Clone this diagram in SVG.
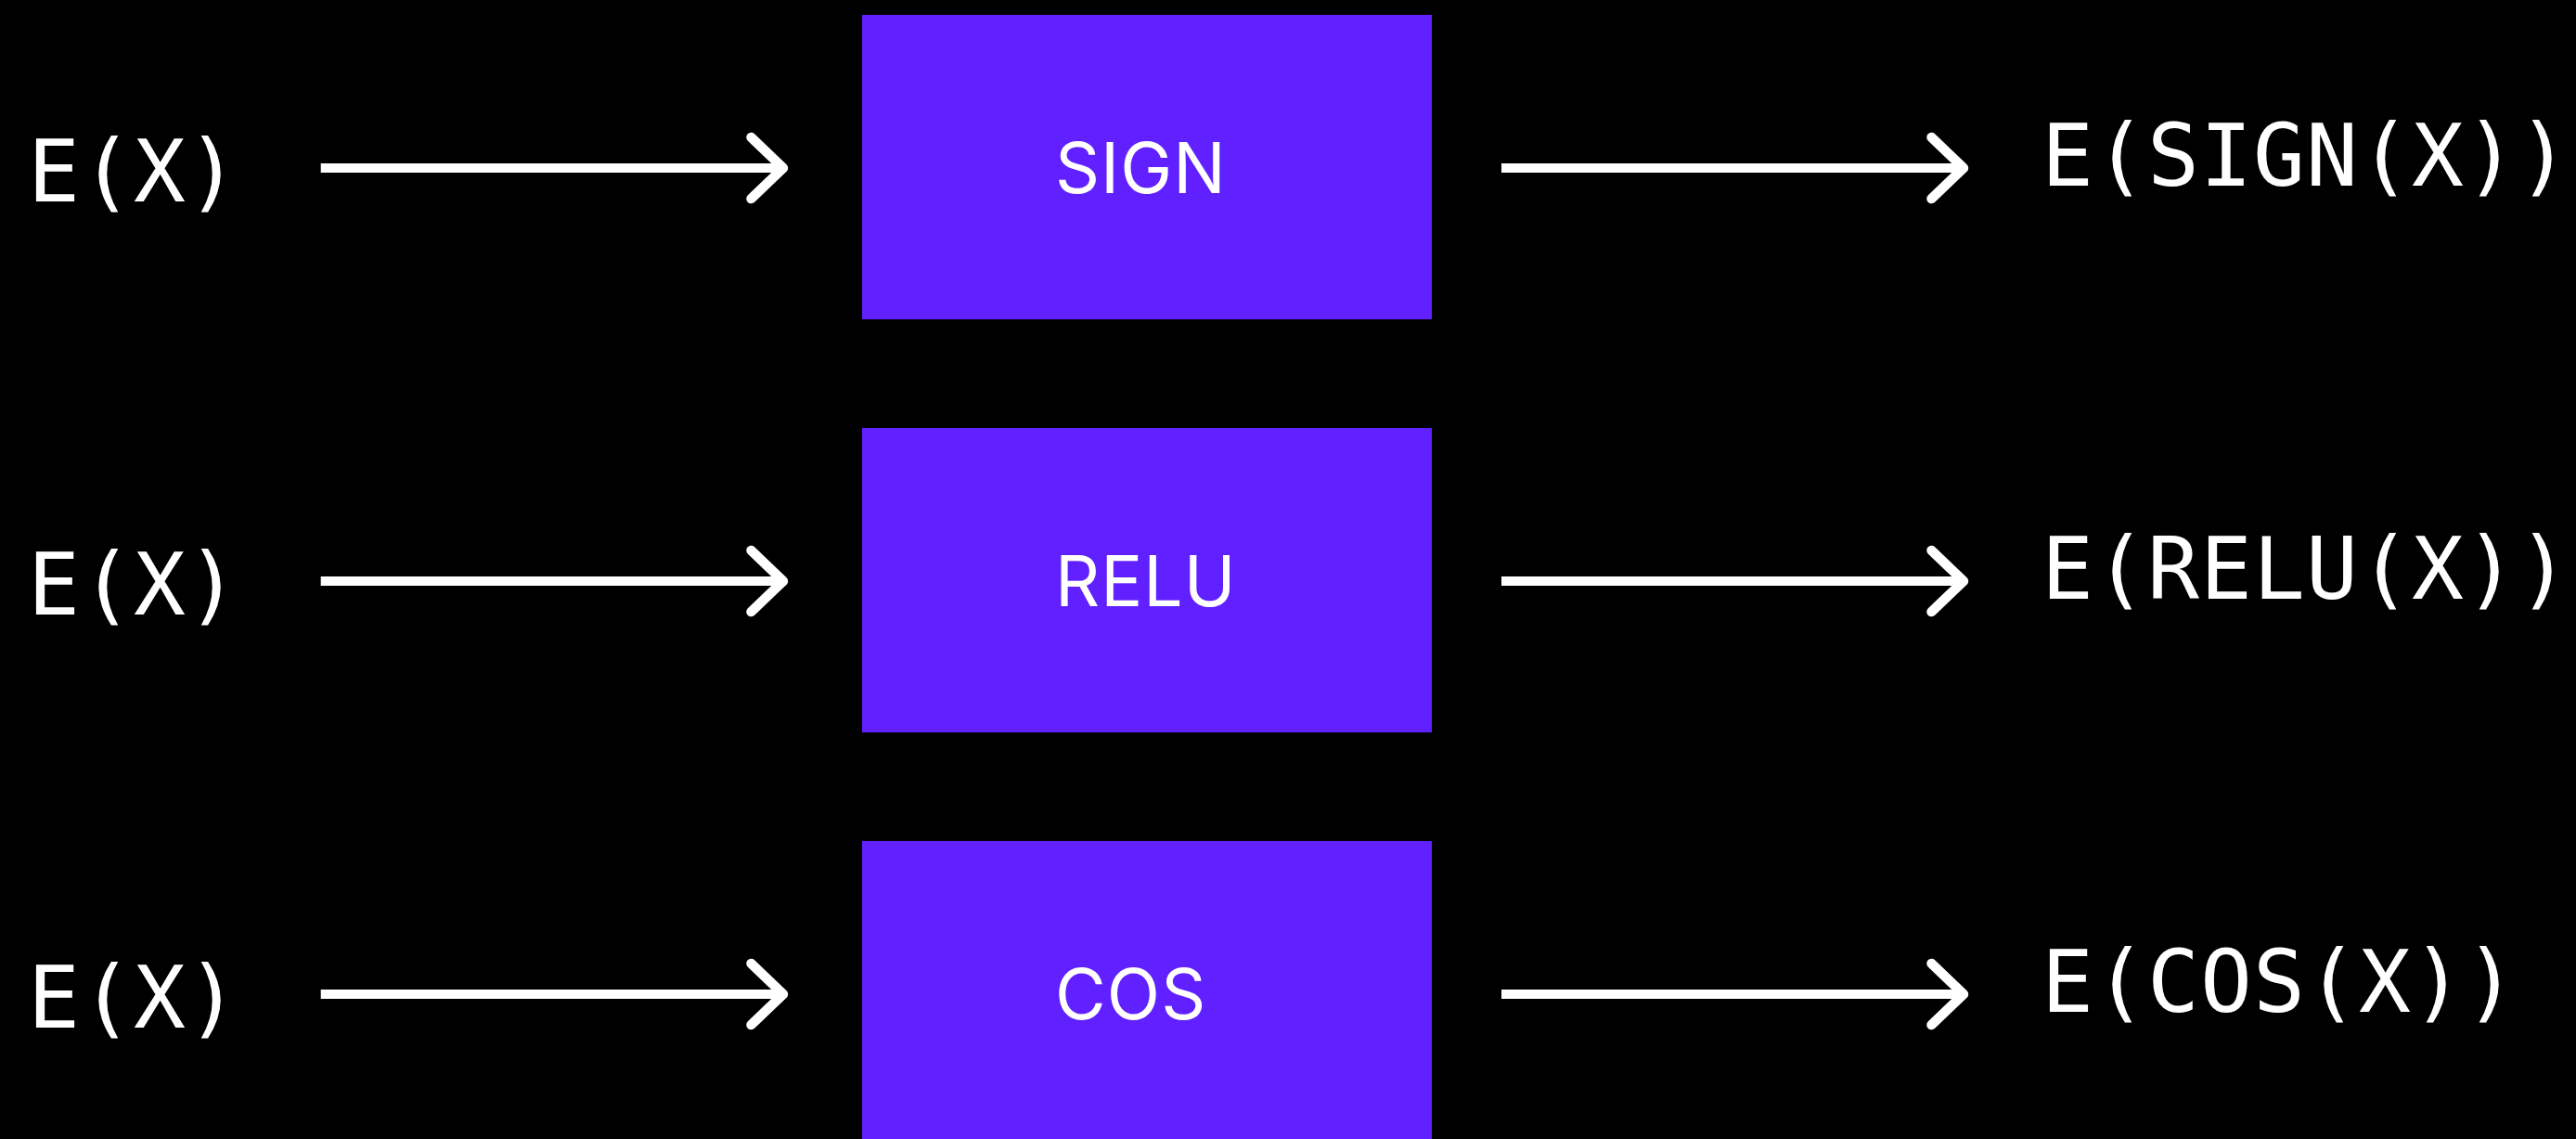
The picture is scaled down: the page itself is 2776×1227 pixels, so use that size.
<svg xmlns="http://www.w3.org/2000/svg" width="2776" height="1227" viewBox="0 0 2776 1227">
  <defs>
    <style>
      .bg { fill: #000000; }
      .box { fill: #6020ff; }
      .box-label { fill: #ffffff; font-family: Inter, "Liberation Sans", sans-serif; font-size: 75px; font-weight: 400; letter-spacing: 1px; }
      .expr { fill: #ffffff; font-family: "DejaVu Sans Mono", "Liberation Mono", monospace; font-size: 93px; letter-spacing: 1px; }
      .edge { stroke: #ffffff; stroke-width: 10; fill: none; }
    </style>
    <marker id="chevron" markerUnits="userSpaceOnUse" viewBox="-45 -45 55 90" markerWidth="55" markerHeight="90" refX="0" refY="0" orient="auto">
      <path d="M -34.5 -33 L 0 0 L -34.5 33" fill="none" stroke="#ffffff" stroke-width="10.5" stroke-linecap="round" stroke-linejoin="round"/>
    </marker>
  </defs>

  <rect class="bg" x="0" y="0" width="2776" height="1227"/>

  <!-- row 1: sign -->
  <g id="in-sign">
    <text class="expr" x="30" y="217">E(X)</text>
  </g>
  <g id="node-sign">
    <rect class="box" x="929" y="16" width="614" height="328"/>
    <text class="box-label" x="1137" y="208">SIGN</text>
  </g>
  <g id="out-sign">
    <text class="expr" x="2200" y="200">E(SIGN(X))</text>
  </g>

  <!-- row 2: relu -->
  <g id="in-relu">
    <text class="expr" x="30" y="662">E(X)</text>
  </g>
  <g id="node-relu">
    <rect class="box" x="929" y="461" width="614" height="328"/>
    <text class="box-label" x="1137" y="653">RELU</text>
  </g>
  <g id="out-relu">
    <text class="expr" x="2200" y="645">E(RELU(X))</text>
  </g>

  <!-- row 3: cos -->
  <g id="in-cos">
    <text class="expr" x="30" y="1107">E(X)</text>
  </g>
  <g id="node-cos">
    <rect class="box" x="929" y="906" width="614" height="328"/>
    <text class="box-label" x="1137" y="1098">COS</text>
  </g>
  <g id="out-cos">
    <text class="expr" x="2200" y="1090">E(COS(X))</text>
  </g>

  <!-- connectors -->
  <g id="connectors">
    <path class="edge" d="M 345.7 181 H 844" marker-end="url(#chevron)"/>
    <path class="edge" d="M 1618 181 H 2116" marker-end="url(#chevron)"/>
    <path class="edge" d="M 345.7 626 H 844" marker-end="url(#chevron)"/>
    <path class="edge" d="M 1618 626 H 2116" marker-end="url(#chevron)"/>
    <path class="edge" d="M 345.7 1071 H 844" marker-end="url(#chevron)"/>
    <path class="edge" d="M 1618 1071 H 2116" marker-end="url(#chevron)"/>
  </g>
</svg>
